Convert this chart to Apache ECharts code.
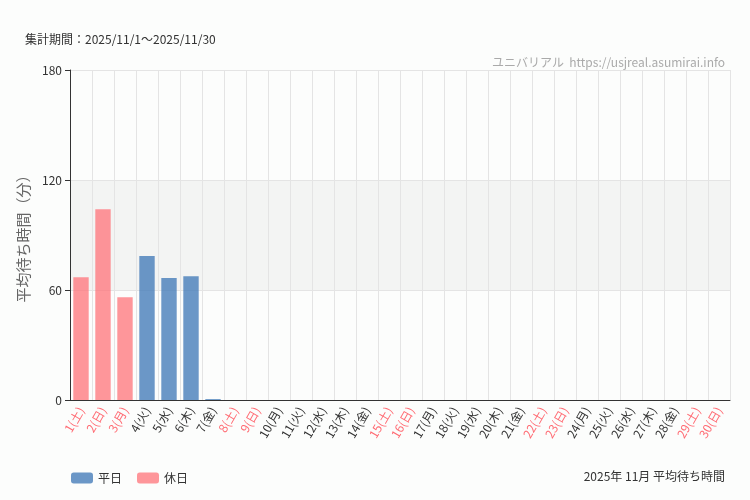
<!DOCTYPE html>
<html lang="ja">
<head>
<meta charset="UTF-8">
<title>平均待ち時間</title>
<script src="https://cdn.jsdelivr.net/npm/echarts@6/dist/echarts.min.js"></script>
<style>body{margin:0;background:#fcfdfc;}</style>
</head>
<body>
<div id="chart" style="width:750px;height:500px;"></div>
<script>
const days = ['1(土)','2(日)','3(月)','4(火)','5(水)','6(木)','7(金)','8(土)','9(日)','10(月)','11(火)','12(水)','13(木)','14(金)','15(土)','16(日)','17(月)','18(火)','19(水)','20(木)','21(金)','22(土)','23(日)','24(月)','25(火)','26(水)','27(木)','28(金)','29(土)','30(日)'];
const holidays = ['1(土)','2(日)','3(月)','8(土)','9(日)','15(土)','16(日)','22(土)','23(日)','29(土)','30(日)'];
const waitTimes = [67, 104, 56, 78.5, 66.5, 67.5, 0.5];

const weekdayData = days.map((d, i) => holidays.includes(d) ? null : (i < waitTimes.length ? waitTimes[i] : null));
const holidayData = days.map((d, i) => holidays.includes(d) ? (i < waitTimes.length ? waitTimes[i] : null) : null);

const chart = echarts.init(document.getElementById('chart'));
chart.setOption({
    backgroundColor: '#fcfdfc',
    textStyle: {fontFamily: 'Noto Sans CJK JP'},
    title: [{
        text: '集計期間：2025/11/1〜2025/11/30',
        left: 20, top: 28,
        textStyle: {fontSize: 12, fontWeight: 'normal', color: '#333'}
    }, {
        text: 'ユニバリアル  https://usjreal.asumirai.info',
        right: 20, top: 51,
        textStyle: {fontSize: 12, fontWeight: 'normal', color: '#aaa'}
    }, {
        text: '2025年 11月 平均待ち時間',
        right: 20, top: 465,
        textStyle: {fontSize: 12, fontWeight: 'normal', color: '#333'}
    }],
    legend: {
        left: 66, top: 467, itemWidth: 22, itemHeight: 11, itemGap: 15,
        textStyle: {fontSize: 12, color: '#333'},
        data: ['平日', '休日']
    },
    grid: {left: 70, right: 20, top: 70, bottom: 100},
    xAxis: {
        type: 'category',
        data: days,
        axisLine: {lineStyle: {color: '#333'}},
        axisTick: {alignWithLabel: true, lineStyle: {color: '#333'}},
        splitLine: {show: true, lineStyle: {color: '#e4e4e4'}},
        axisLabel: {
            interval: 0, rotate: 60, fontSize: 12,
            color: v => holidays.includes(v) ? '#ff6b73' : '#333'
        }
    },
    yAxis: {
        type: 'value', min: 0, max: 180, interval: 60,
        name: '平均待ち時間（分）', nameLocation: 'middle', nameGap: 32,
        nameTextStyle: {fontSize: 15, color: '#666'},
        axisLine: {show: true, lineStyle: {color: '#333'}},
        axisTick: {show: true},
        axisLabel: {color: '#333'},
        splitLine: {lineStyle: {color: '#e4e4e4'}},
        splitArea: {show: true, areaStyle: {color: ['rgba(0,0,0,0)', 'rgba(230,230,230,0.4)', 'rgba(0,0,0,0)']}}
    },
    series: [{
        name: '平日', type: 'bar', stack: 'a', barWidth: '70%',
        itemStyle: {color: 'rgba(70,125,185,0.8)'},
        data: weekdayData
    }, {
        name: '休日', type: 'bar', stack: 'a', barWidth: '70%',
        itemStyle: {color: 'rgba(255,115,122,0.75)'},
        data: holidayData
    }]
});
</script>
</body>
</html>
